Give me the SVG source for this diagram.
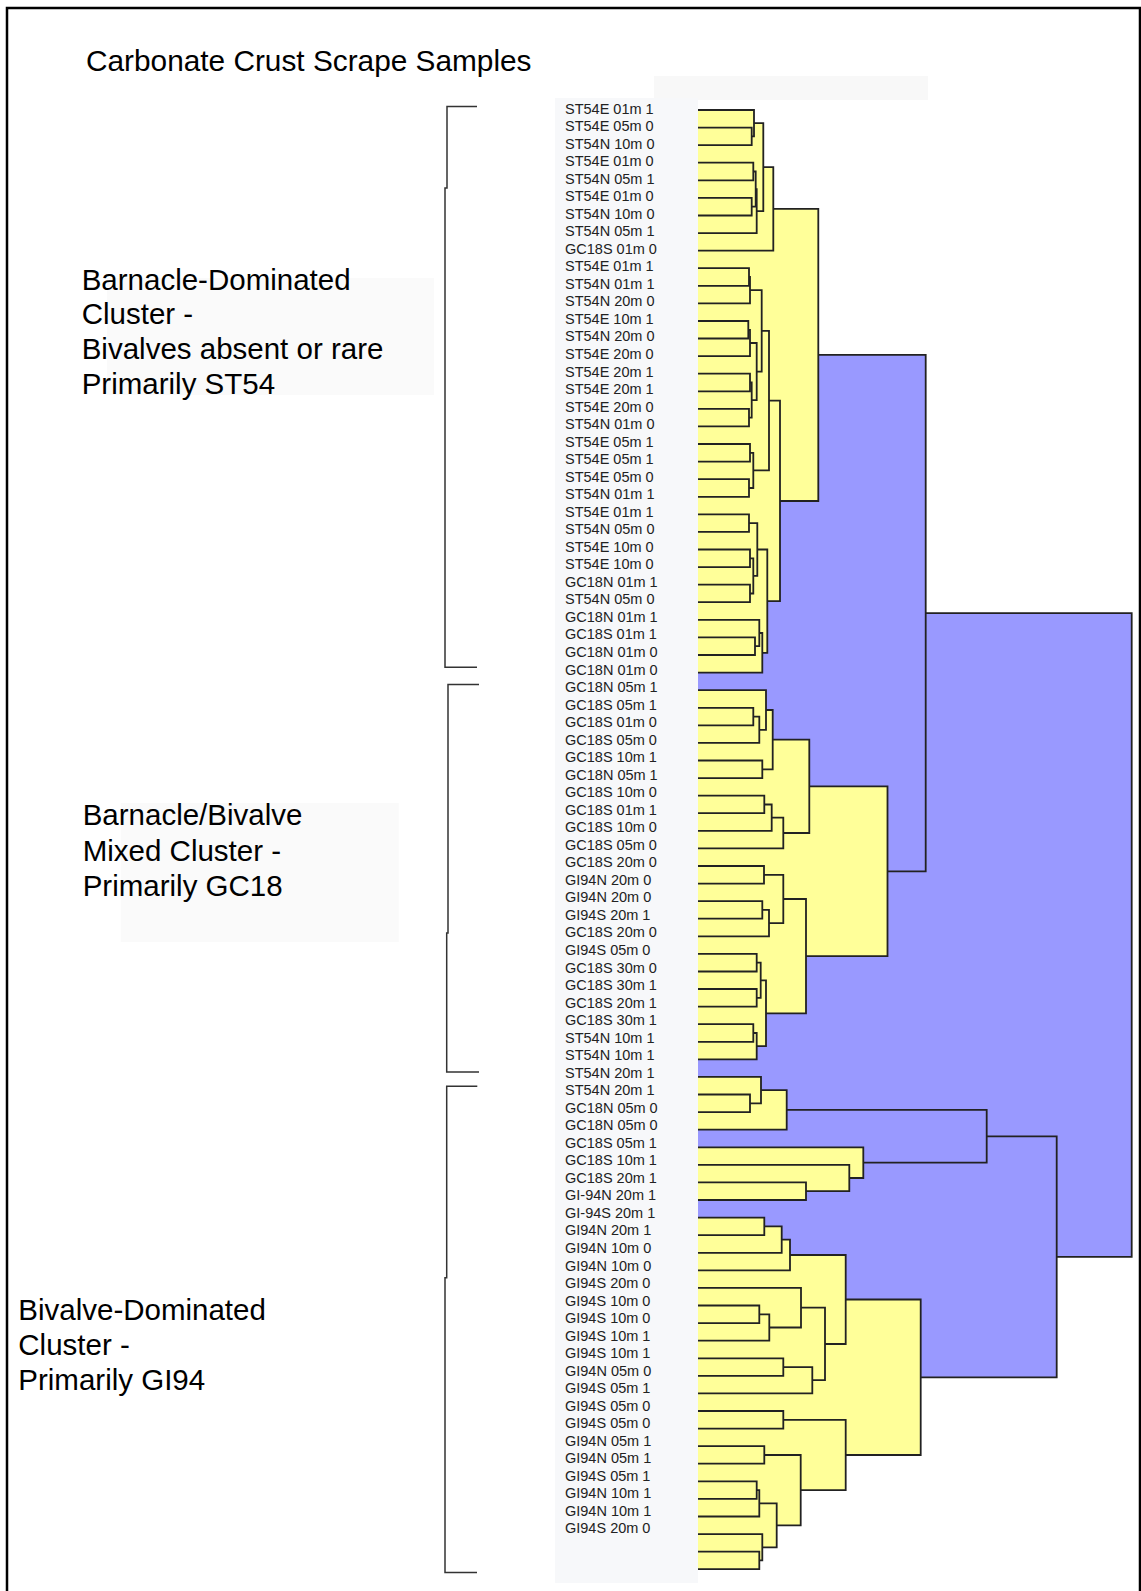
<svg xmlns="http://www.w3.org/2000/svg" width="1141" height="1591" viewBox="0 0 1141 1591">
<style>
.lbl{font-family:"Liberation Sans",Arial,sans-serif;font-size:14.5px;fill:#222}
.big{font-family:"Liberation Sans",Arial,sans-serif;font-size:29.5px;fill:#000}
.y{fill:#FFFF99}
.b{fill:#9999FF}
.ln{fill:none;stroke:#222;stroke-width:1.8}
.br{fill:none;stroke:#333;stroke-width:1.5}
</style>
<rect x="0" y="0" width="1141" height="1591" fill="#fff"/>
<path d="M7 1591 V8 H1140 V1591" fill="none" stroke="#000" stroke-width="2.5"/>
<rect x="654" y="76" width="274" height="24" fill="#f8f8f8"/>
<text id="title" class="big" x="86" y="71" style="font-size:29.8px">Carbonate Crust Scrape Samples</text>

<g id="cluster-note-1">
<rect x="107" y="278" width="327" height="117" fill="#fafafa"/>
<text class="big" x="81.7" y="289.5">Barnacle-Dominated</text>
<text class="big" x="81.7" y="324.3">Cluster -</text>
<text class="big" x="81.7" y="359">Bivalves absent or rare</text>
<text class="big" x="81.7" y="393.7">Primarily ST54</text>
</g>
<g id="cluster-note-2">
<rect x="120.7" y="803" width="278" height="139" fill="#fafafa"/>
<text class="big" x="82.7" y="825">Barnacle/Bivalve</text>
<text class="big" x="82.7" y="860.5">Mixed Cluster -</text>
<text class="big" x="82.7" y="896">Primarily GC18</text>
</g>
<g id="cluster-note-3">
<text class="big" x="18.3" y="1319.5">Bivalve-Dominated</text>
<text class="big" x="18.3" y="1354.7">Cluster -</text>
<text class="big" x="18.3" y="1389.9">Primarily GI94</text>
</g>
<g id="brackets">
<path class="br" d="M477 106.5 H447 V188 H445 V667.3 H477"/>
<path class="br" d="M479 684.5 H448 V933 H446.7 V1072 H479"/>
<path class="br" d="M477.3 1086.2 H446.7 V1277.7 H445 V1572.5 H477"/>
</g>

<g id="tree-fills">
<rect class="b" x="698" y="613.1" width="433.7" height="643.7"/>
<rect class="b" x="698" y="354.9" width="227.7" height="516.4"/>
<rect class="b" x="698" y="1136.3" width="358.7" height="241"/>
<rect class="b" x="698" y="1109.9" width="288.7" height="52.8"/>
<!-- cluster 1 -->
<rect class="y" x="698" y="208.9" width="120.3" height="292.1"/>
<rect class="y" x="698" y="167.2" width="75.3" height="83.4"/>
<rect class="y" x="698" y="123.2" width="65.3" height="87.9"/>
<rect class="y" x="698" y="110" width="56" height="26.4"/>
<rect class="y" x="698" y="127.6" width="53.7" height="17.6"/>
<rect class="y" x="698" y="189.1" width="58.7" height="44"/>
<rect class="y" x="698" y="171.5" width="57.7" height="35.2"/>
<rect class="y" x="698" y="162.7" width="55.3" height="17.6"/>
<rect class="y" x="698" y="197.9" width="53.7" height="17.6"/>
<rect class="y" x="698" y="400.7" width="82" height="200.5"/>
<rect class="y" x="698" y="330.9" width="71" height="139.5"/>
<rect class="y" x="698" y="290.2" width="63.7" height="81.4"/>
<rect class="y" x="698" y="277" width="52" height="26.4"/>
<rect class="y" x="698" y="268.2" width="51" height="17.6"/>
<rect class="y" x="698" y="343" width="58.7" height="57.1"/>
<rect class="y" x="698" y="329.8" width="52" height="26.3"/>
<rect class="y" x="698" y="321" width="50.3" height="17.5"/>
<rect class="y" x="698" y="382.5" width="53.7" height="35.2"/>
<rect class="y" x="698" y="373.7" width="52" height="17.6"/>
<rect class="y" x="698" y="408.9" width="51" height="17.5"/>
<rect class="y" x="698" y="452.8" width="55.3" height="35.2"/>
<rect class="y" x="698" y="444" width="52" height="17.6"/>
<rect class="y" x="698" y="479.2" width="51" height="17.6"/>
<rect class="y" x="698" y="549.5" width="69.3" height="103.3"/>
<rect class="y" x="698" y="523.1" width="59.3" height="52.8"/>
<rect class="y" x="698" y="514.3" width="51" height="17.6"/>
<rect class="y" x="698" y="558.3" width="55.3" height="35.2"/>
<rect class="y" x="698" y="549.5" width="52" height="17.6"/>
<rect class="y" x="698" y="584.7" width="52" height="17.5"/>
<rect class="y" x="698" y="633" width="64.3" height="39.6"/>
<rect class="y" x="698" y="619.8" width="61.3" height="26.4"/>
<rect class="y" x="698" y="637.4" width="57" height="17.6"/>
<!-- cluster 2 -->
<rect class="y" x="698" y="786.4" width="189.5" height="169.8"/>
<rect class="y" x="698" y="739.7" width="111.3" height="93.3"/>
<rect class="y" x="698" y="710" width="74.7" height="59.3"/>
<rect class="y" x="698" y="690.2" width="68" height="39.6"/>
<rect class="y" x="698" y="716.6" width="61.3" height="26.3"/>
<rect class="y" x="698" y="707.8" width="55.3" height="17.5"/>
<rect class="y" x="698" y="760.5" width="64.3" height="17.6"/>
<rect class="y" x="698" y="817.7" width="85.3" height="30.7"/>
<rect class="y" x="698" y="804.5" width="73.7" height="26.3"/>
<rect class="y" x="698" y="795.7" width="66.3" height="17.5"/>
<rect class="y" x="698" y="899" width="108" height="114.3"/>
<rect class="y" x="698" y="874.8" width="85.3" height="48.3"/>
<rect class="y" x="698" y="866" width="66" height="17.6"/>
<rect class="y" x="698" y="909.9" width="71" height="26.4"/>
<rect class="y" x="698" y="901.1" width="64.3" height="17.6"/>
<rect class="y" x="698" y="980.3" width="68" height="65.9"/>
<rect class="y" x="698" y="962.7" width="62.7" height="35.1"/>
<rect class="y" x="698" y="953.9" width="58.7" height="17.6"/>
<rect class="y" x="698" y="989" width="58.7" height="17.6"/>
<rect class="y" x="698" y="1033" width="58.7" height="26.4"/>
<rect class="y" x="698" y="1024.2" width="55.3" height="17.6"/>
<!-- cluster 3 -->
<rect class="y" x="698" y="1090.1" width="88.7" height="39.6"/>
<rect class="y" x="698" y="1076.9" width="63" height="26.4"/>
<rect class="y" x="698" y="1094.5" width="52" height="17.6"/>
<rect class="y" x="698" y="1147.3" width="165.3" height="30.7"/>
<rect class="y" x="698" y="1164.8" width="151.3" height="26.4"/>
<rect class="y" x="698" y="1182.4" width="108" height="17.6"/>
<rect class="y" x="698" y="1299.5" width="222.7" height="155.5"/>
<rect class="y" x="698" y="1255" width="147.7" height="89"/>
<rect class="y" x="698" y="1239.6" width="92" height="30.7"/>
<rect class="y" x="698" y="1226.4" width="83.7" height="26.4"/>
<rect class="y" x="698" y="1217.6" width="66.3" height="17.6"/>
<rect class="y" x="698" y="1307.7" width="127" height="72.5"/>
<rect class="y" x="698" y="1287.9" width="103" height="39.6"/>
<rect class="y" x="698" y="1314.3" width="71.3" height="26.4"/>
<rect class="y" x="698" y="1305.5" width="61.3" height="17.6"/>
<rect class="y" x="698" y="1367.1" width="114.3" height="26.3"/>
<rect class="y" x="698" y="1358.3" width="85.3" height="17.5"/>
<rect class="y" x="698" y="1419.8" width="147.7" height="70.4"/>
<rect class="y" x="698" y="1411" width="85.3" height="17.6"/>
<rect class="y" x="698" y="1455" width="102.7" height="70.3"/>
<rect class="y" x="698" y="1446.2" width="66.3" height="17.5"/>
<rect class="y" x="698" y="1503.3" width="78.7" height="44"/>
<rect class="y" x="698" y="1490.1" width="61.3" height="26.4"/>
<rect class="y" x="698" y="1481.3" width="58.7" height="17.6"/>
<rect class="y" x="698" y="1534.1" width="64.3" height="26.3"/>
<rect class="y" x="698" y="1551.6" width="61.3" height="17.6"/>
</g>

<g id="connectors" class="ln">
<path d="M698 127.6 H751.7 V145.2 H698"/>
<path d="M698 110 H754 V136.4 H751.7"/>
<path d="M698 162.7 H753.3 V180.3 H698"/>
<path d="M698 197.9 H751.7 V215.5 H698"/>
<path d="M753.3 171.5 H755.7 V206.7 H751.7"/>
<path d="M755.7 189.1 H756.7 V233.1 H698"/>
<path d="M754 123.2 H763.3 V211.1 H756.7"/>
<path d="M763.3 167.2 H773.3 V250.6 H698"/>
<path d="M698 268.2 H749 V285.8 H698"/>
<path d="M749 277 H750 V303.4 H698"/>
<path d="M698 321 H748.3 V338.5 H698"/>
<path d="M748.3 329.8 H750 V356.1 H698"/>
<path d="M698 373.7 H750 V391.3 H698"/>
<path d="M698 408.9 H749 V426.4 H698"/>
<path d="M750 382.5 H751.7 V417.7 H749"/>
<path d="M750 343 H756.7 V400.1 H751.7"/>
<path d="M750 290.2 H761.7 V371.6 H756.7"/>
<path d="M698 444 H750 V461.6 H698"/>
<path d="M698 479.2 H749 V496.8 H698"/>
<path d="M750 452.8 H753.3 V488 H749"/>
<path d="M761.7 330.9 H769 V470.4 H753.3"/>
<path d="M698 514.3 H749 V531.9 H698"/>
<path d="M698 549.5 H750 V567.1 H698"/>
<path d="M698 584.7 H750 V602.2 H698"/>
<path d="M750 558.3 H753.3 V593.5 H750"/>
<path d="M749 523.1 H757.3 V575.9 H753.3"/>
<path d="M698 637.4 H755 V655 H698"/>
<path d="M698 619.8 H759.3 V646.2 H755"/>
<path d="M759.3 633 H762.3 V672.6 H698"/>
<path d="M757.3 549.5 H767.3 V652.8 H762.3"/>
<path d="M769 400.7 H780 V601.2 H767.3"/>
<path d="M773.3 208.9 H818.3 V501 H780"/>
<path d="M698 707.8 H753.3 V725.3 H698"/>
<path d="M753.3 716.6 H759.3 V742.9 H698"/>
<path d="M698 690.2 H766 V729.8 H759.3"/>
<path d="M698 760.5 H762.3 V778.1 H698"/>
<path d="M766 710 H772.7 V769.3 H762.3"/>
<path d="M698 795.7 H764.3 V813.2 H698"/>
<path d="M764.3 804.5 H771.7 V830.8 H698"/>
<path d="M771.7 817.7 H783.3 V848.4 H698"/>
<path d="M772.7 739.7 H809.3 V833 H783.3"/>
<path d="M698 866 H764 V883.6 H698"/>
<path d="M698 901.1 H762.3 V918.7 H698"/>
<path d="M762.3 909.9 H769 V936.3 H698"/>
<path d="M764 874.8 H783.3 V923.1 H769"/>
<path d="M698 953.9 H756.7 V971.5 H698"/>
<path d="M698 989 H756.7 V1006.6 H698"/>
<path d="M756.7 962.7 H760.7 V997.8 H756.7"/>
<path d="M698 1024.2 H753.3 V1041.8 H698"/>
<path d="M753.3 1033 H756.7 V1059.4 H698"/>
<path d="M760.7 980.3 H766 V1046.2 H756.7"/>
<path d="M783.3 899 H806 V1013.3 H766"/>
<path d="M809.3 786.4 H887.5 V956.2 H806"/>
<path d="M818.3 354.9 H925.7 V871.3 H887.5"/>
<path d="M698 1094.5 H750 V1112.1 H698"/>
<path d="M698 1076.9 H761 V1103.3 H750"/>
<path d="M761 1090.1 H786.7 V1129.7 H698"/>
<path d="M698 1182.4 H806 V1200 H698"/>
<path d="M698 1164.8 H849.3 V1191.2 H806"/>
<path d="M698 1147.3 H863.3 V1178 H849.3"/>
<path d="M786.7 1109.9 H986.7 V1162.7 H863.3"/>
<path d="M698 1217.6 H764.3 V1235.2 H698"/>
<path d="M764.3 1226.4 H781.7 V1252.8 H698"/>
<path d="M781.7 1239.6 H790 V1270.3 H698"/>
<path d="M698 1305.5 H759.3 V1323.1 H698"/>
<path d="M759.3 1314.3 H769.3 V1340.7 H698"/>
<path d="M698 1287.9 H801 V1327.5 H769.3"/>
<path d="M698 1358.3 H783.3 V1375.8 H698"/>
<path d="M783.3 1367.1 H812.3 V1393.4 H698"/>
<path d="M801 1307.7 H825 V1380.2 H812.3"/>
<path d="M790 1255 H845.7 V1344 H825"/>
<path d="M698 1411 H783.3 V1428.6 H698"/>
<path d="M698 1446.2 H764.3 V1463.7 H698"/>
<path d="M698 1481.3 H756.7 V1498.9 H698"/>
<path d="M756.7 1490.1 H759.3 V1516.5 H698"/>
<path d="M698 1551.6 H759.3 V1569.2 H698"/>
<path d="M698 1534.1 H762.3 V1560.4 H759.3"/>
<path d="M759.3 1503.3 H776.7 V1547.3 H762.3"/>
<path d="M764.3 1455 H800.7 V1525.3 H776.7"/>
<path d="M783.3 1419.8 H845.7 V1490.2 H800.7"/>
<path d="M845.7 1299.5 H920.7 V1455 H845.7"/>
<path d="M986.7 1136.3 H1056.7 V1377.3 H920.7"/>
<path d="M925.7 613.1 H1131.7 V1256.8 H1056.7"/>
</g>

<g id="sample-labels">
<rect x="555" y="98" width="143" height="1485" fill="#f7f8fa"/>
<text class="lbl" x="565" y="113.5">ST54E 01m 1</text>
<text class="lbl" x="565" y="131.0">ST54E 05m 0</text>
<text class="lbl" x="565" y="148.6">ST54N 10m 0</text>
<text class="lbl" x="565" y="166.1">ST54E 01m 0</text>
<text class="lbl" x="565" y="183.6">ST54N 05m 1</text>
<text class="lbl" x="565" y="201.2">ST54E 01m 0</text>
<text class="lbl" x="565" y="218.7">ST54N 10m 0</text>
<text class="lbl" x="565" y="236.2">ST54N 05m 1</text>
<text class="lbl" x="565" y="253.7">GC18S 01m 0</text>
<text class="lbl" x="565" y="271.3">ST54E 01m 1</text>
<text class="lbl" x="565" y="288.8">ST54N 01m 1</text>
<text class="lbl" x="565" y="306.3">ST54N 20m 0</text>
<text class="lbl" x="565" y="323.9">ST54E 10m 1</text>
<text class="lbl" x="565" y="341.4">ST54N 20m 0</text>
<text class="lbl" x="565" y="358.9">ST54E 20m 0</text>
<text class="lbl" x="565" y="376.5">ST54E 20m 1</text>
<text class="lbl" x="565" y="394.0">ST54E 20m 1</text>
<text class="lbl" x="565" y="411.5">ST54E 20m 0</text>
<text class="lbl" x="565" y="429.0">ST54N 01m 0</text>
<text class="lbl" x="565" y="446.6">ST54E 05m 1</text>
<text class="lbl" x="565" y="464.1">ST54E 05m 1</text>
<text class="lbl" x="565" y="481.6">ST54E 05m 0</text>
<text class="lbl" x="565" y="499.2">ST54N 01m 1</text>
<text class="lbl" x="565" y="516.7">ST54E 01m 1</text>
<text class="lbl" x="565" y="534.2">ST54N 05m 0</text>
<text class="lbl" x="565" y="551.8">ST54E 10m 0</text>
<text class="lbl" x="565" y="569.3">ST54E 10m 0</text>
<text class="lbl" x="565" y="586.8">GC18N 01m 1</text>
<text class="lbl" x="565" y="604.3">ST54N 05m 0</text>
<text class="lbl" x="565" y="621.9">GC18N 01m 1</text>
<text class="lbl" x="565" y="639.4">GC18S 01m 1</text>
<text class="lbl" x="565" y="656.9">GC18N 01m 0</text>
<text class="lbl" x="565" y="674.5">GC18N 01m 0</text>
<text class="lbl" x="565" y="692.0">GC18N 05m 1</text>
<text class="lbl" x="565" y="709.5">GC18S 05m 1</text>
<text class="lbl" x="565" y="727.1">GC18S 01m 0</text>
<text class="lbl" x="565" y="744.6">GC18S 05m 0</text>
<text class="lbl" x="565" y="762.1">GC18S 10m 1</text>
<text class="lbl" x="565" y="779.6">GC18N 05m 1</text>
<text class="lbl" x="565" y="797.2">GC18S 10m 0</text>
<text class="lbl" x="565" y="814.7">GC18S 01m 1</text>
<text class="lbl" x="565" y="832.2">GC18S 10m 0</text>
<text class="lbl" x="565" y="849.8">GC18S 05m 0</text>
<text class="lbl" x="565" y="867.3">GC18S 20m 0</text>
<text class="lbl" x="565" y="884.8">GI94N 20m 0</text>
<text class="lbl" x="565" y="902.4">GI94N 20m 0</text>
<text class="lbl" x="565" y="919.9">GI94S 20m 1</text>
<text class="lbl" x="565" y="937.4">GC18S 20m 0</text>
<text class="lbl" x="565" y="954.9">GI94S 05m 0</text>
<text class="lbl" x="565" y="972.5">GC18S 30m 0</text>
<text class="lbl" x="565" y="990.0">GC18S 30m 1</text>
<text class="lbl" x="565" y="1007.5">GC18S 20m 1</text>
<text class="lbl" x="565" y="1025.1">GC18S 30m 1</text>
<text class="lbl" x="565" y="1042.6">ST54N 10m 1</text>
<text class="lbl" x="565" y="1060.1">ST54N 10m 1</text>
<text class="lbl" x="565" y="1077.7">ST54N 20m 1</text>
<text class="lbl" x="565" y="1095.2">ST54N 20m 1</text>
<text class="lbl" x="565" y="1112.7">GC18N 05m 0</text>
<text class="lbl" x="565" y="1130.2">GC18N 05m 0</text>
<text class="lbl" x="565" y="1147.8">GC18S 05m 1</text>
<text class="lbl" x="565" y="1165.3">GC18S 10m 1</text>
<text class="lbl" x="565" y="1182.8">GC18S 20m 1</text>
<text class="lbl" x="565" y="1200.4">GI-94N 20m 1</text>
<text class="lbl" x="565" y="1217.9">GI-94S 20m 1</text>
<text class="lbl" x="565" y="1235.4">GI94N 20m 1</text>
<text class="lbl" x="565" y="1253.0">GI94N 10m 0</text>
<text class="lbl" x="565" y="1270.5">GI94N 10m 0</text>
<text class="lbl" x="565" y="1288.0">GI94S 20m 0</text>
<text class="lbl" x="565" y="1305.5">GI94S 10m 0</text>
<text class="lbl" x="565" y="1323.1">GI94S 10m 0</text>
<text class="lbl" x="565" y="1340.6">GI94S 10m 1</text>
<text class="lbl" x="565" y="1358.1">GI94S 10m 1</text>
<text class="lbl" x="565" y="1375.7">GI94N 05m 0</text>
<text class="lbl" x="565" y="1393.2">GI94S 05m 1</text>
<text class="lbl" x="565" y="1410.7">GI94S 05m 0</text>
<text class="lbl" x="565" y="1428.3">GI94S 05m 0</text>
<text class="lbl" x="565" y="1445.8">GI94N 05m 1</text>
<text class="lbl" x="565" y="1463.3">GI94N 05m 1</text>
<text class="lbl" x="565" y="1480.8">GI94S 05m 1</text>
<text class="lbl" x="565" y="1498.4">GI94N 10m 1</text>
<text class="lbl" x="565" y="1515.9">GI94N 10m 1</text>
<text class="lbl" x="565" y="1533.4">GI94S 20m 0</text>
</g>
</svg>
